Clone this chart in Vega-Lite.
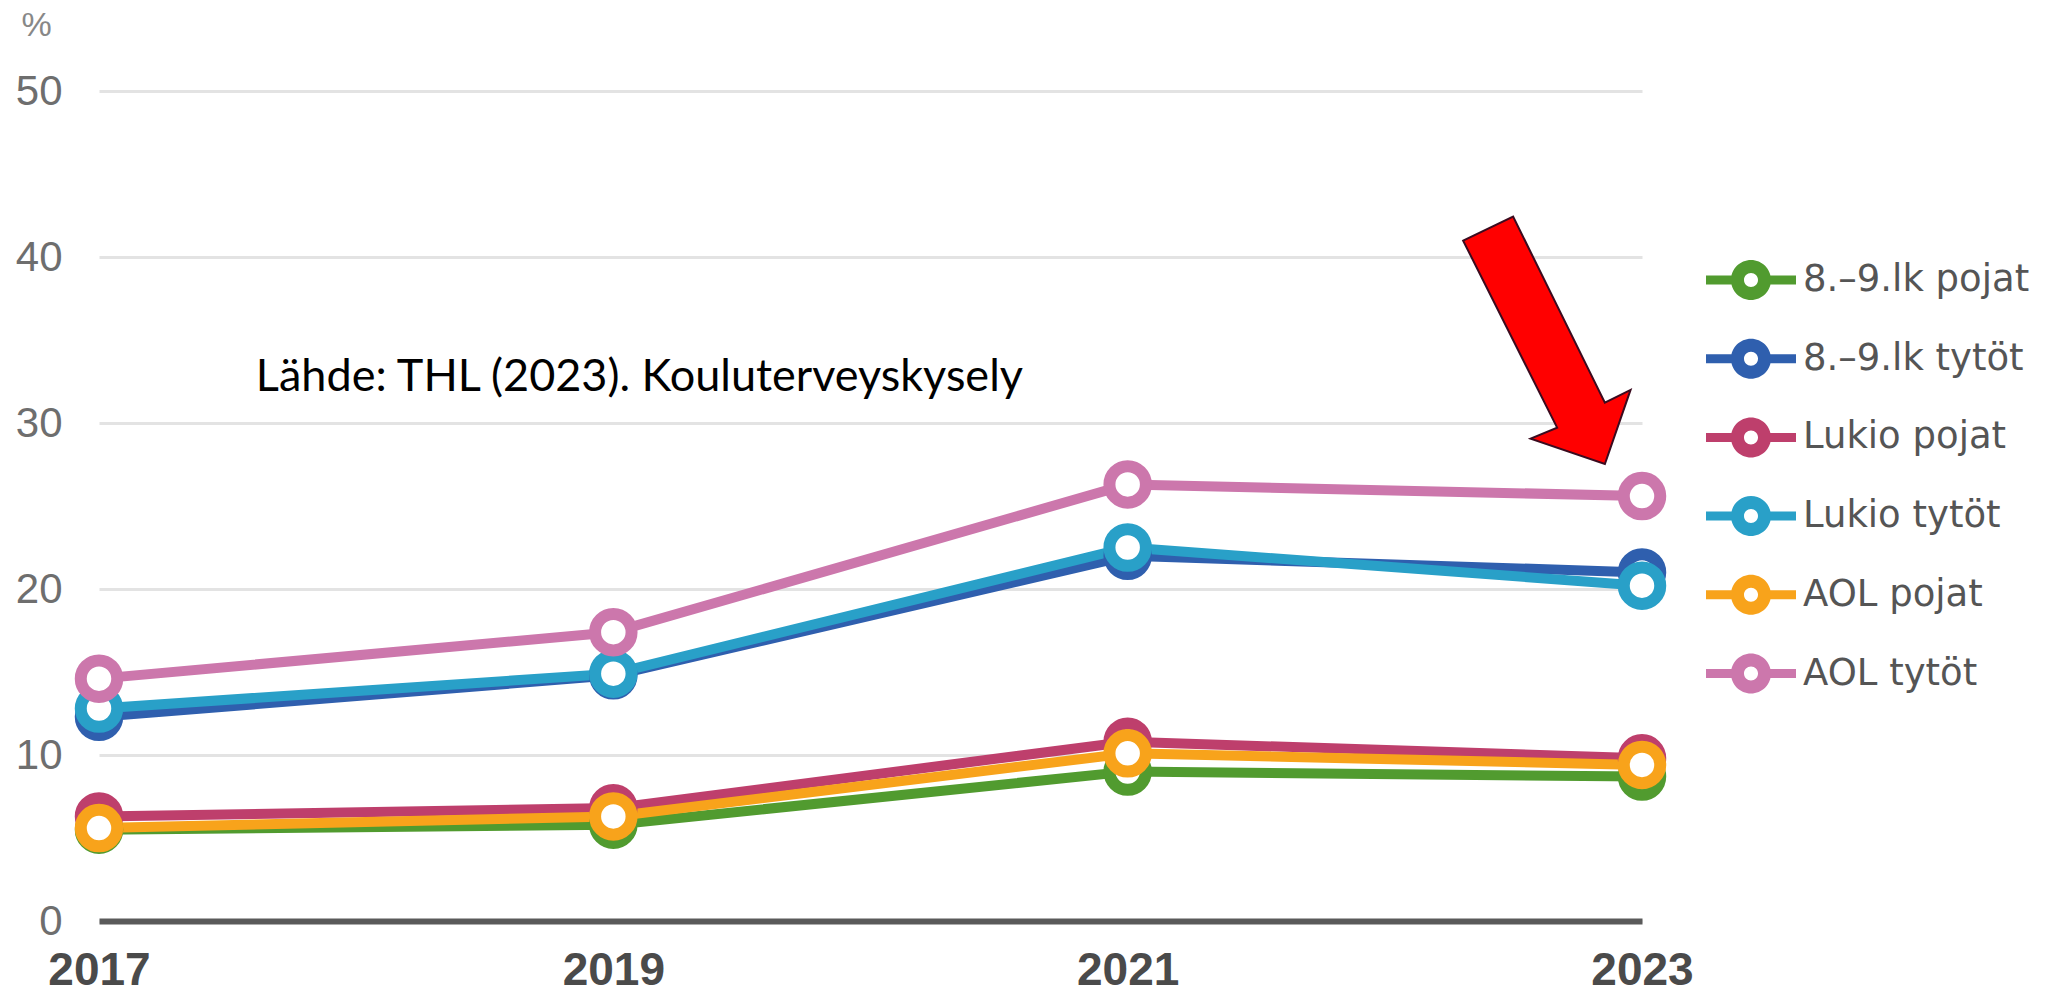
{
  "$schema": "https://vega.github.io/schema/vega-lite/v6.json",
  "width": 1543,
  "height": 830,
  "autosize": "none",
  "padding": {"left": 99, "top": 91, "right": 420, "bottom": 77},
  "background": "white",
  "config": {"view": {"stroke": null}},
  "datasets": {
    "series": [
      {"series": "8.–9.lk pojat", "year": 2017, "value": 5.5},
      {"series": "8.–9.lk pojat", "year": 2019, "value": 5.8},
      {"series": "8.–9.lk pojat", "year": 2021, "value": 9.0},
      {"series": "8.–9.lk pojat", "year": 2023, "value": 8.7},
      {"series": "8.–9.lk tytöt", "year": 2017, "value": 12.3},
      {"series": "8.–9.lk tytöt", "year": 2019, "value": 14.8},
      {"series": "8.–9.lk tytöt", "year": 2021, "value": 22.0},
      {"series": "8.–9.lk tytöt", "year": 2023, "value": 21.0},
      {"series": "Lukio pojat", "year": 2017, "value": 6.3},
      {"series": "Lukio pojat", "year": 2019, "value": 6.8},
      {"series": "Lukio pojat", "year": 2021, "value": 10.8},
      {"series": "Lukio pojat", "year": 2023, "value": 9.8},
      {"series": "Lukio tytöt", "year": 2017, "value": 12.8},
      {"series": "Lukio tytöt", "year": 2019, "value": 14.9},
      {"series": "Lukio tytöt", "year": 2021, "value": 22.5},
      {"series": "Lukio tytöt", "year": 2023, "value": 20.2},
      {"series": "AOL pojat", "year": 2017, "value": 5.6},
      {"series": "AOL pojat", "year": 2019, "value": 6.3},
      {"series": "AOL pojat", "year": 2021, "value": 10.1},
      {"series": "AOL pojat", "year": 2023, "value": 9.4},
      {"series": "AOL tytöt", "year": 2017, "value": 14.6},
      {"series": "AOL tytöt", "year": 2019, "value": 17.4},
      {"series": "AOL tytöt", "year": 2021, "value": 26.3},
      {"series": "AOL tytöt", "year": 2023, "value": 25.6}
    ],
    "note": [{"year": 2017.61, "value": 31.92, "text": "Lähde: THL (2023). Kouluterveyskysely"}],
    "arrow": [{"year": 2022.63, "value": 34.98}]
  },
  "layer": [
    {
      "data": {"name": "series"},
      "mark": {"type": "line", "strokeWidth": 10, "strokeCap": "round", "strokeJoin": "round"},
      "encoding": {
        "x": {
          "field": "year", "type": "quantitative",
          "scale": {"domain": [2017, 2023], "nice": false, "zero": false},
          "axis": {
            "values": [2017, 2019, 2021, 2023], "format": "d", "grid": false, "ticks": false,
            "domain": true, "domainColor": "#5a5a5a", "domainWidth": 6,
            "labelFont": "Liberation Sans", "labelFontWeight": "bold", "labelFontSize": 46,
            "labelColor": "#4a4a4a", "labelPadding": 27, "labelFlush": false, "labelOverlap": false,
            "title": null
          }
        },
        "y": {
          "field": "value", "type": "quantitative",
          "scale": {"domain": [0, 50], "nice": false},
          "axis": {
            "values": [0, 10, 20, 30, 40, 50], "domain": false, "ticks": false, "grid": true,
            "gridColor": "#e3e3e3", "gridWidth": 3,
            "labelFont": "Liberation Sans", "labelFontSize": 42, "labelColor": "#6e6e6e", "labelPadding": 37,
            "title": "%", "titleAngle": 0, "titleX": -63, "titleY": -66, "titleAlign": "center",
            "titleBaseline": "middle", "titleFont": "Liberation Sans", "titleFontSize": 34,
            "titleFontWeight": "normal", "titleColor": "#888888"
          }
        },
        "color": {
          "field": "series", "type": "nominal",
          "scale": {
            "domain": ["8.–9.lk pojat", "8.–9.lk tytöt", "Lukio pojat", "Lukio tytöt", "AOL pojat", "AOL tytöt"],
            "range": ["#519b2f", "#2f5fae", "#be3f6c", "#29a0c8", "#f8a31b", "#cc77ac"]
          },
          "legend": {
            "title": null, "orient": "none", "legendX": 1632, "legendY": 169,
            "labelFont": "DejaVu Sans", "labelFontSize": 37, "labelColor": "#555555",
            "labelOffset": 32, "labelLimit": 400, "rowPadding": 38.7, "padding": 0,
            "symbolSize": 1600, "symbolStrokeWidth": 0,
            "symbolType": "M-2.25,-0.225L-0.9,-0.225L-0.9,0.225L-2.25,0.225Z M0.9,-0.225L2.25,-0.225L2.25,0.225L0.9,0.225Z M-1,0A1,1 0 1,1 1,0A1,1 0 1,1 -1,0Z M-0.35,0A0.35,0.35 0 1,0 0.35,0A0.35,0.35 0 1,0 -0.35,0Z",
            "encode": {
              "symbols": {
                "update": {
                  "fill": {"scale": "color", "field": "value"},
                  "stroke": {"value": "transparent"},
                  "opacity": {"value": 1}
                }
              }
            }
          }
        }
      }
    },
    {
      "data": {"name": "series"},
      "mark": {"type": "point", "filled": false, "fill": "white", "size": 1330, "strokeWidth": 12, "opacity": 1},
      "encoding": {
        "x": {"field": "year", "type": "quantitative"},
        "y": {"field": "value", "type": "quantitative"},
        "color": {"field": "series", "type": "nominal"}
      }
    },
    {
      "data": {"name": "note"},
      "mark": {"type": "text", "align": "left", "baseline": "alphabetic", "font": "Lato", "fontSize": 45, "color": "#000000"},
      "encoding": {
        "x": {"field": "year", "type": "quantitative"},
        "y": {"field": "value", "type": "quantitative"},
        "text": {"field": "text"}
      }
    },
    {
      "data": {"name": "arrow"},
      "mark": {
        "type": "point", "filled": true, "fill": "#ff0000", "stroke": "#3b0b1f", "strokeWidth": 2, "opacity": 1,
        "size": 61504,
        "shape": "M-0.675,-0.804L-0.272,-0.998L0.468,0.502L0.675,0.4L0.468,0.997L-0.131,0.793L0.083,0.704Z"
      },
      "encoding": {
        "x": {"field": "year", "type": "quantitative"},
        "y": {"field": "value", "type": "quantitative"}
      }
    }
  ]
}
